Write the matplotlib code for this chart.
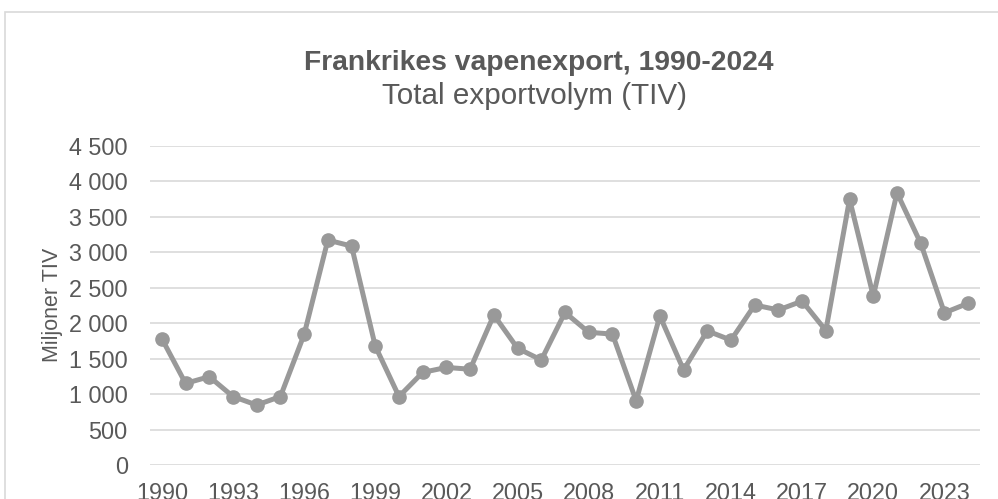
import matplotlib.pyplot as plt
from matplotlib.ticker import FuncFormatter
from matplotlib.patches import Rectangle

plt.rcParams['font.family'] = ['Liberation Sans', 'DejaVu Sans']

# Frankrikes vapenexport (TIV, miljoner)
years = list(range(1990, 2025))
tiv = [1780, 1150, 1245, 965, 845, 965, 1840, 3170, 3085, 1675,
       965, 1305, 1375, 1350, 2115, 1645, 1480, 2150, 1870, 1845,
       905, 2100, 1340, 1890, 1760, 2255, 2185, 2310, 1895, 3745,
       2380, 3835, 3125, 2145, 2280]
tick_years = list(range(1990, 2024, 3))

text_col = '#595959'
line_col = '#999999'

fig = plt.figure(figsize=(9.98, 4.99), dpi=100)

# ram runt diagramområdet
fig.patches.append(Rectangle((5 / 998, -0.1), 1.2, 1 - 12 / 499 + 0.1,
                             transform=fig.transFigure, fill=False,
                             edgecolor='#d9d9d9', linewidth=1.2))

ax = fig.add_axes([150 / 998, 1 - 465 / 499, (980 - 150) / 998, (465 - 145.7) / 499])
ax.plot(years, tiv, color=line_col, linewidth=3.6, marker='o', markersize=9.5,
        solid_joinstyle='round', zorder=3)

ax.set_xlim(1989.5, 2024.5)
ax.set_ylim(0, 4500)
ax.set_yticks(range(0, 4501, 500))
ax.set_xticks(tick_years)
ax.yaxis.set_major_formatter(FuncFormatter(lambda v, p: f"{v:,.0f}".replace(",", " ")))
ax.grid(axis='y', color='#d9d9d9', linewidth=1.2)
ax.set_axisbelow(True)
for s in ax.spines.values():
    s.set_visible(False)
ax.tick_params(axis='both', length=0, labelsize=16.8, colors=text_col)
ax.tick_params(axis='y', pad=16)
ax.tick_params(axis='x', pad=12)
ax.set_ylabel('Miljoner TIV', fontsize=15.5, color=text_col, labelpad=4)

fig.text(539 / 998, 1 - 63 / 499, 'Frankrikes vapenexport, 1990-2024', ha='center', va='center',
         fontsize=20.3, fontweight='bold', color=text_col)
fig.text(535 / 998, 1 - 96 / 499, 'Total exportvolym (TIV)', ha='center', va='center',
         fontsize=21.3, color=text_col)

fig.savefig('out.png', dpi=100)
